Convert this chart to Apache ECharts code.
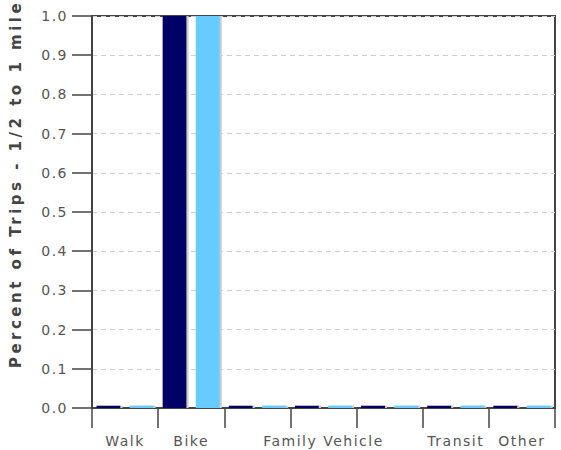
<!DOCTYPE html>
<html>
<head>
<meta charset="utf-8">
<script src="https://cdn.jsdelivr.net/npm/echarts@6/dist/echarts.min.js"></script>
<style>
  html, body { margin: 0; padding: 0; background: #fff; }
  #chart { width: 561px; height: 450px; }
  /* the source chart uses widely spaced lettering */
  #chart text { letter-spacing: 1.5px; }
  #chart text[style*="bold"] { letter-spacing: 3.5px; }
</style>
</head>
<body>
<div id="chart"></div>
<script>
  // categories (the 3rd and 5th slots carry no visible label in the source)
  var categories = ['Walk', 'Bike', '', 'Family Vehicle', '', 'Transit', 'Other'];
  var seriesA = [0.006, 1.0, 0.006, 0.006, 0.006, 0.006, 0.006];
  var seriesB = [0.006, 1.0, 0.006, 0.006, 0.006, 0.006, 0.006];
  var yTitle = 'Percent of Trips - 1/2 to 1 mile';

  var chart = echarts.init(document.getElementById('chart'), null, { renderer: 'svg' });
  var font = 'DejaVu Sans';

  function barItem(color) {
    return {
      color: color,
      shadowColor: '#cccccc',
      shadowOffsetX: 2,
      shadowBlur: 0
    };
  }

  chart.setOption({
    animation: false,
    grid: {
      left: 90, right: 6, top: 16, bottom: 42,
      show: true,
      borderColor: '#444',
      borderWidth: 2,
      backgroundColor: '#fff'
    },
    xAxis: {
      type: 'category',
      data: categories,
      axisLine: { lineStyle: { color: '#444', width: 2 } },
      axisTick: { show: true, length: 20, lineStyle: { color: '#444', width: 1.5 } },
      axisLabel: { color: '#555', fontFamily: font, fontSize: 14, margin: 26, interval: 0 },
      splitLine: { show: false }
    },
    yAxis: {
      type: 'value',
      min: 0, max: 1, interval: 0.1,
      name: yTitle,
      nameLocation: 'middle',
      nameGap: 69,
      nameTextStyle: { color: '#444', fontFamily: font, fontSize: 15, fontWeight: 'bold', padding: [0, 0, 0, 56] },
      axisLine: { show: true, lineStyle: { color: '#444', width: 2 } },
      axisTick: { show: true, length: 20, lineStyle: { color: '#444', width: 1.5 } },
      axisLabel: {
        color: '#555', fontFamily: font, fontSize: 14, margin: 24,
        formatter: function (v) { return v.toFixed(1); }
      },
      splitLine: { show: true, lineStyle: { color: '#ccd0d4', type: [5, 4], width: 1 } }
    },
    series: [
      {
        type: 'bar',
        data: seriesA,
        barWidth: 24,
        barGap: '38%',
        itemStyle: barItem('#000066')
      },
      {
        type: 'bar',
        data: seriesB,
        barWidth: 24,
        itemStyle: barItem('#66ccff')
      }
    ]
  });

  window.addEventListener('resize', function () {
    chart.resize();
  });
</script>
</body>
</html>
